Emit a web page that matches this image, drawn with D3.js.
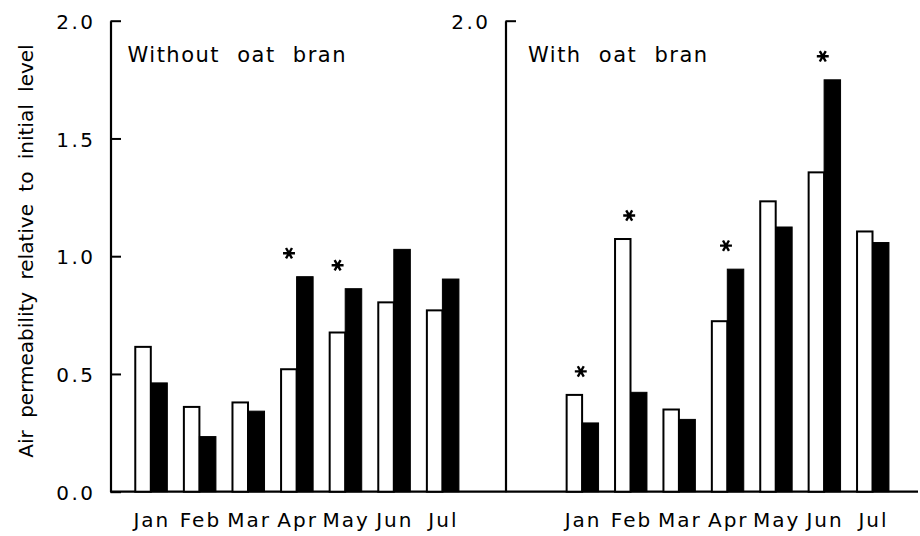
<!DOCTYPE html>
<html>
<head>
<meta charset="utf-8">
<script src="https://cdn.jsdelivr.net/npm/d3@7"></script>
<style>
  html, body { margin: 0; padding: 0; background: #fff; }
  svg { display: block; }
  text { font-family: "DejaVu Sans", sans-serif; fill: #000; }
</style>
</head>
<body>
<svg id="chart" width="920" height="536"></svg>
<script>
// Months shown under each panel
const months = ["Jan", "Feb", "Mar", "Apr", "May", "Jun", "Jul"];

// Without oat bran: open and filled bars, relative to initial level
const withoutOpen   = [0.615, 0.360, 0.379, 0.520, 0.676, 0.804, 0.770];
const withoutFilled = [0.462, 0.234, 0.342, 0.913, 0.862, 1.029, 0.903];

// With oat bran
const withOpen   = [0.411, 1.073, 0.349, 0.724, 1.233, 1.356, 1.105];
const withFilled = [0.292, 0.422, 0.307, 0.945, 1.124, 1.749, 1.058];

// Months marked as significant (asterisk)
const withoutStars = ["Apr", "May"];
const withStars    = ["Jan", "Feb", "Apr", "Jun"];

// Tick labels
const leftTicks  = [0, 0.5, 1.0, 1.5, 2.0];
const rightTicks = [2.0];

const svg = d3.select("#chart");
const baseY = 491.7, topY = 20.7;
const y = d3.scaleLinear().domain([0, 2]).range([baseY, topY]);

const panels = [
  { title: "Without oat bran", open: withoutOpen, filled: withoutFilled, stars: withoutStars,
    ticks: leftTicks, axisX: 110.5, range: [126.5, 466.7], titleX: 127.5, starAt: 0.27 },
  { title: "With oat bran", open: withOpen, filled: withFilled, stars: withStars,
    ticks: rightTicks, axisX: 505.5, range: [557.9, 896.7], titleX: 528, starAt: 0.46 }
];

// Shared baseline across both panels
svg.append("line")
  .attr("x1", 110.5).attr("x2", 918)
  .attr("y1", baseY).attr("y2", baseY)
  .attr("stroke", "#000").attr("stroke-width", 2.2);

const fmt = d3.format(".1f");

panels.forEach(p => {
  const x = d3.scaleBand().domain(months).range(p.range).paddingInner(0.32).paddingOuter(0.16);
  const xs = d3.scaleBand().domain(["open", "filled"]).range([0, x.bandwidth()]);
  const g = svg.append("g");

  // Vertical axis with inward ticks
  const axis = d3.axisLeft(y).tickValues(p.ticks).tickFormat(fmt)
    .tickSizeInner(-10.5).tickSizeOuter(0).tickPadding(15);
  const ag = g.append("g").attr("transform", `translate(${p.axisX},0)`).call(axis);
  ag.select(".domain").attr("stroke-width", 2.2);
  ag.selectAll(".tick line").attr("stroke-width", 2);
  ag.selectAll(".tick text")
    .style("font-family", "'DejaVu Sans', sans-serif")
    .style("font-size", "20px")
    .style("letter-spacing", "2.5px")
    .attr("dy", "0.38em");

  const rows = months.map((m, i) => ({ m, open: p.open[i], filled: p.filled[i] }));

  // Open bars (outlined)
  g.selectAll(".open").data(rows).join("rect")
    .attr("x", d => x(d.m) + xs("open") + 1)
    .attr("y", d => y(d.open))
    .attr("width", xs.bandwidth() - 1)
    .attr("height", d => baseY - y(d.open))
    .attr("fill", "#fff").attr("stroke", "#000").attr("stroke-width", 2);

  // Filled bars
  g.selectAll(".filled").data(rows).join("rect")
    .attr("x", d => x(d.m) + xs("filled"))
    .attr("y", d => y(d.filled))
    .attr("width", xs.bandwidth())
    .attr("height", d => baseY - y(d.filled))
    .attr("fill", "#000").attr("stroke", "#000").attr("stroke-width", 1);

  // Asterisks above significant months
  const star = d3.symbol().type(d3.symbolAsterisk).size(100);
  g.selectAll(".star").data(rows.filter(d => p.stars.includes(d.m))).join("path")
    .attr("d", star)
    .attr("transform", d => `translate(${x(d.m) + x.bandwidth() * p.starAt},${y(Math.max(d.open, d.filled)) - 23.5}) rotate(90)`)
    .attr("fill", "none").attr("stroke", "#000").attr("stroke-width", 2.4);

  // Month labels
  g.selectAll(".month").data(months).join("text")
    .attr("x", d => x(d) + x.bandwidth() / 2 + 1)
    .attr("y", 527)
    .attr("text-anchor", "middle")
    .style("font-size", "20px")
    .style("letter-spacing", "2px")
    .text(d => d);

  // Panel title
  g.append("text")
    .attr("x", p.titleX).attr("y", 61.5)
    .style("font-size", "21px")
    .style("letter-spacing", "1.5px")
    .style("word-spacing", "9px")
    .text(p.title);
});

// Y axis title
svg.append("text")
  .attr("transform", "translate(33,251) rotate(-90)")
  .attr("text-anchor", "middle")
  .style("font-size", "20px")
  .style("word-spacing", "6px")
  .text("Air permeability relative to initial level");
</script>
</body>
</html>
